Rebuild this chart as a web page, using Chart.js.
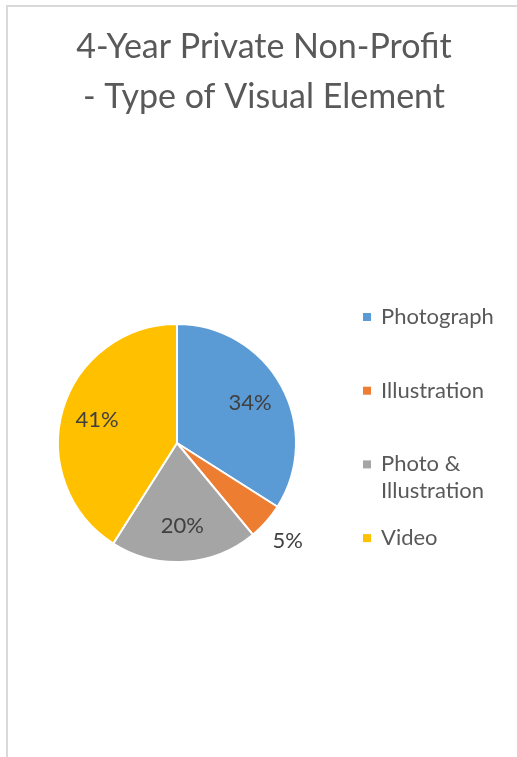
<!DOCTYPE html>
<html>
<head>
<meta charset="utf-8">
<script src="https://cdn.jsdelivr.net/npm/chart.js@4"></script>
<style>
  html, body { margin: 0; padding: 0; background: #fff; overflow: hidden; }
  #box {
    position: absolute; left: 6px; top: 5px; width: 530px; height: 770px;
    border-left: 2px solid #d9d9d9; border-top: 2px solid #d9d9d9;
  }
  #grafico { position: absolute; left: 0; top: 0; }
</style>
</head>
<body>
<div id="box"><canvas id="grafico" width="512" height="750"></canvas></div>
<script>
const categorias = ["Photograph", "Illustration", "Photo & Illustration", "Video"];
const percentuais = [34, 5, 20, 41];
const cores = ["#5b9bd5", "#ed7d31", "#a5a5a5", "#ffc000"];
const titulo = ["4-Year Private Non-Profit", "- Type of Visual Element"];

const fonte = "Lato, 'Open Sans', sans-serif";

// o titulo ocupa a largura toda do canvas, nao so a area da pizza
const tituloLargo = {
    id: "tituloLargo",
    afterLayout(chart) {
        const t = chart.titleBlock;
        if (!t) return;
        t.left = 0;
        t.right = chart.width;
        t.width = chart.width;
    }
};

// rotulos de porcentagem em cada fatia
const rotulos = {
    id: "rotulos",
    afterDatasetsDraw(chart) {
        const ctx = chart.ctx;
        const meta = chart.getDatasetMeta(0);
        ctx.save();
        ctx.font = "22px " + fonte;
        ctx.fillStyle = "#404040";
        ctx.textAlign = "center";
        ctx.textBaseline = "middle";
        meta.data.forEach((arc, i) => {
            const p = arc.getProps(["x", "y", "startAngle", "endAngle", "outerRadius"], true);
            const meio = (p.startAngle + p.endAngle) / 2;
            const v = percentuais[i];
            const r = v < 10 ? p.outerRadius * 1.24 : p.outerRadius * 0.7;
            ctx.fillText(v + "%", p.x + Math.cos(meio) * r, p.y + Math.sin(meio) * r);
        });
        ctx.restore();
    }
};

// legenda a direita, com quebra de linha
const legenda = {
    id: "legenda",
    afterDraw(chart) {
        const ctx = chart.ctx;
        const area = chart.chartArea;
        const cx = (area.left + area.right) / 2;
        const cy = (area.top + area.bottom) / 2;
        const x0 = cx + 186;
        const larguraMax = chart.width - (x0 + 18) - 2;
        ctx.save();
        ctx.font = "22px " + fonte;
        ctx.textBaseline = "middle";
        categorias.forEach((nome, i) => {
            const y = cy - 126 + i * 73.7;
            ctx.fillStyle = cores[i];
            ctx.fillRect(x0, y - 4, 8, 8);
            ctx.fillStyle = "#595959";
            const palavras = nome.split(" ");
            let linha = "";
            let yy = y;
            palavras.forEach(p => {
                const teste = linha ? linha + " " + p : p;
                if (linha && ctx.measureText(teste).width > larguraMax) {
                    ctx.fillText(linha, x0 + 18, yy);
                    linha = p;
                    yy += 27;
                } else {
                    linha = teste;
                }
            });
            ctx.fillText(linha, x0 + 18, yy);
        });
        ctx.restore();
    }
};

new Chart(document.getElementById("grafico"), {
    type: "pie",
    data: {
        labels: categorias,
        datasets: [{
            data: percentuais,
            backgroundColor: cores,
            borderColor: "#ffffff",
            borderWidth: 2
        }]
    },
    options: {
        responsive: false,
        animation: false,
        devicePixelRatio: 1,
        layout: { padding: { left: 49, right: 223, top: 0, bottom: 194 } },
        plugins: {
            legend: { display: false },
            tooltip: { enabled: false },
            title: {
                display: true,
                text: titulo,
                color: "#595959",
                font: { family: fonte, size: 34, weight: "normal", lineHeight: 50 / 34 },
                padding: { top: 15, bottom: 201 }
            }
        }
    },
    plugins: [tituloLargo, rotulos, legenda]
});
</script>
</body>
</html>
